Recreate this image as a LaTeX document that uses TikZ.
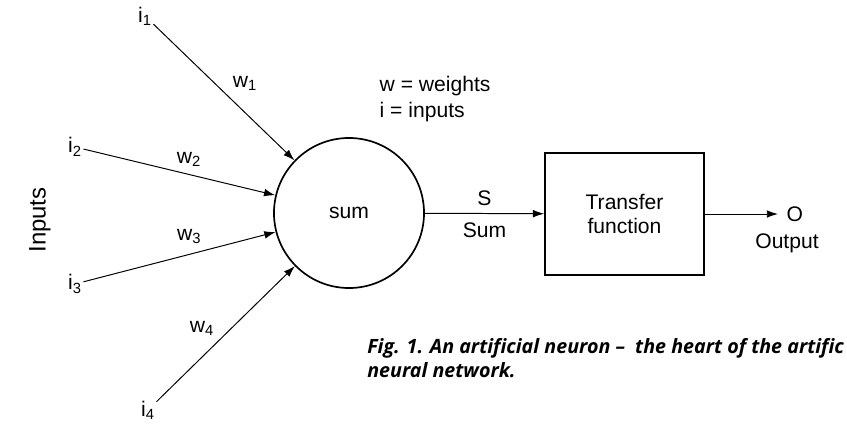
\documentclass[tikz,border=0pt]{standalone}
\usepackage{fontspec}
\setmainfont{Liberation Sans}
\newfontfamily\capfont[Ligatures=NoCommon]{Open Sans}
\usetikzlibrary{arrows.meta, positioning}

\begin{document}
\begin{tikzpicture}[
    x=0.025cm, y=-0.025cm,
    lbl/.style={font=\fontsize{15}{19}\selectfont, inner sep=1pt},
    neuron/.style={circle, draw, line width=1.2pt, minimum size=3.75cm, font=\fontsize{15}{18}\selectfont},
    tbox/.style={rectangle, draw, line width=1.2pt, minimum width=3.975cm, minimum height=3.05cm, align=center, font=\fontsize{15}{17}\selectfont},
    arrow/.style={-{Latex[length=8pt, width=5.5pt]}, line width=0.7pt}
  ]
    \useasboundingbox (0,0) rectangle (847,423);

    % neuron and transfer block
    \node[neuron] (sum) at (349,213) {sum};
    \node[tbox] (tf) at (624.5,214) {Transfer\\function};

    % inputs
    \node[lbl] (i1) at (145,16) {i\textsubscript{1}};
    \node[lbl] (i2) at (75,147) {i\textsubscript{2}};
    \node[lbl] (i3) at (75,284) {i\textsubscript{3}};
    \node[lbl] (i4) at (148,410) {i\textsubscript{4}};
    \node[lbl, rotate=90, font=\fontsize{17}{19}\selectfont] (inputs) at (40,220) {Inputs};

    \draw[arrow] (i1) -- node[lbl, pos=0.5, anchor=south west, xshift=5pt] {w\textsubscript{1}} (sum);
    \draw[arrow] (i2) -- node[lbl, pos=0.55, above, yshift=4pt] {w\textsubscript{2}} (sum);
    \draw[arrow] (i3) -- node[lbl, pos=0.55, above, yshift=6pt] {w\textsubscript{3}} (sum);
    \draw[arrow] (i4) -- node[lbl, pos=0.45, anchor=south east, xshift=-2pt, yshift=2pt] {w\textsubscript{4}} (sum);

    % legend
    \node[lbl, anchor=west, align=left] (legend) at (378,99) {w = weights\\i = inputs};

    % sum to transfer function
    \draw[arrow] (sum) -- node[lbl, above=4pt] {S} node[lbl, below=5pt] {Sum} (tf);

    % output
    \coordinate (out) at (778,214);
    \draw[arrow] (tf.east |- out) -- (out);
    \node[lbl, anchor=west] (o) at (785,214) {O};
    \node[lbl] (output) at (787,243) {Output};

    % caption
    \node[anchor=base west, align=left, inner sep=0pt, font=\capfont\bfseries\itshape\fontsize{14}{17}\selectfont] (caption) at (367,377)
      {Fig. 1. An artificial neuron \textendash\ \ the heart of the artific\\neural network.};
  \end{tikzpicture}
\end{document}
